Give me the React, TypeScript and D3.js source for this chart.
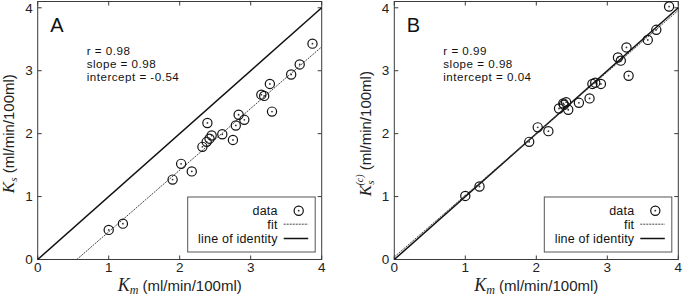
import React from 'react';
import * as d3 from 'd3';

const km = [1.0, 1.2, 1.9, 2.02, 2.17, 2.32, 2.38, 2.42, 2.45, 2.39, 2.6, 2.75, 2.79, 2.83, 2.91, 3.15, 3.19, 3.27, 3.3, 3.57, 3.69, 3.87];
const ksA = [0.47, 0.57, 1.27, 1.52, 1.4, 1.79, 1.87, 1.92, 1.97, 2.17, 1.99, 1.9, 2.13, 2.3, 2.22, 2.62, 2.6, 2.79, 2.35, 2.94, 3.1, 3.43];
const ksB = [1.01, 1.16, 1.87, 2.1, 2.04, 2.4, 2.48, 2.5, 2.38, 2.46, 2.49, 2.56, 2.79, 2.81, 2.79, 3.21, 3.16, 3.37, 2.92, 3.49, 3.65, 4.02];
const tickValues = [0, 1, 2, 3, 4];
const statsA = ['r = 0.98', 'slope = 0.98', 'intercept = -0.54'];
const statsB = ['r = 0.99', 'slope = 0.98', 'intercept = 0.04'];
const fitSlopes = [0.98, 0.98];
const fitIntercepts = [-0.54, 0.04];
const legendLabels = ['data', 'fit', 'line of identity'];
const panelLetters = ['A', 'B'];

const SANS = '"Liberation Sans", Arial, Helvetica, sans-serif';
const SERIF = '"Liberation Serif", "Times New Roman", serif';

type PanelProps = {
  left: number;
  right: number;
  ys: number[];
  stats: string[];
  letter: string;
  slope: number;
  intercept: number;
  corrected: boolean;
};

function Panel({ left, right, ys, stats, letter, slope, intercept, corrected }: PanelProps) {
  const top = 1.5;
  const bottom = 259.5;
  const x = d3.scaleLinear().domain([0, 4]).range([left, right]);
  const y = d3.scaleLinear().domain([0, 4.1]).range([bottom, top]);
  const tickLen = 4;

  const fx0 = Math.max(0, -intercept / slope);
  const fitLine = d3.line<number>().x((d) => x(d)).y((d) => y(slope * d + intercept));
  const idLine = d3.line<number>().x((d) => x(d)).y((d) => y(d));

  const cx = (left + right) / 2;
  const cy = (y(0) + y(4)) / 2;

  const lgRight = right - 6.5;
  const lgLeft = right - 134;
  const lgTop = 197;
  const lgBottom = 252;
  const rows = [210.7, 224.2, 238.5];

  return (
    <g>
      <rect x={left} y={top} width={right - left} height={bottom - top} fill="none" stroke="#3a3a3a" strokeWidth={1} />
      {tickValues.map((t) => (
        <g key={'t' + t}>
          <line x1={left} x2={left + tickLen} y1={y(t)} y2={y(t)} stroke="#3a3a3a" />
          <line x1={right} x2={right - tickLen} y1={y(t)} y2={y(t)} stroke="#3a3a3a" />
          <line x1={x(t)} x2={x(t)} y1={bottom} y2={bottom - tickLen} stroke="#3a3a3a" />
          <line x1={x(t)} x2={x(t)} y1={top} y2={top + tickLen} stroke="#3a3a3a" />
          <text x={left - 5} y={y(t)} dy="0.35em" textAnchor="end" fontFamily={SANS} fontSize={13.5} fill="#222">{t}</text>
          <text x={x(t)} y={271.5} textAnchor="middle" fontFamily={SANS} fontSize={13.5} fill="#222">{t}</text>
        </g>
      ))}
      <path d={idLine([0, 4]) || ''} fill="none" stroke="#111" strokeWidth={1.5} />
      <path d={fitLine([fx0, 4]) || ''} fill="none" stroke="#444" strokeWidth={1} strokeDasharray="2,1" />
      {km.map((k, i) => (
        <g key={'p' + i}>
          <circle cx={x(k)} cy={y(ys[i])} r={4.6} fill="none" stroke="#111" strokeWidth={1.2} />
          <circle cx={x(k)} cy={y(ys[i])} r={0.9} fill="#333" />
        </g>
      ))}
      <text x={left + 12.5} y={31.7} fontFamily={SANS} fontSize={20} fill="#111">{letter}</text>
      {stats.map((s, i) => (
        <text key={'s' + i} x={left + 49} y={54.5 + i * 13} fontFamily={SANS} fontSize={11.6} letterSpacing={0.5} fill="#111">{s}</text>
      ))}
      <rect x={lgLeft} y={lgTop} width={lgRight - lgLeft} height={lgBottom - lgTop} fill="#fff" stroke="#555" strokeWidth={1} />
      {legendLabels.map((l, i) => (
        <text key={'l' + i} x={right - 44} y={rows[i]} dy="0.35em" textAnchor="end" fontFamily={SANS} fontSize={12.5} letterSpacing={0.2} fill="#111">{l}</text>
      ))}
      <circle cx={right - 23} cy={rows[0]} r={4.6} fill="none" stroke="#111" strokeWidth={1.2} />
      <circle cx={right - 23} cy={rows[0]} r={0.9} fill="#333" />
      <line x1={right - 38} x2={right - 13.5} y1={rows[1]} y2={rows[1]} stroke="#444" strokeWidth={1} strokeDasharray="2,1" />
      <line x1={right - 38} x2={right - 13.5} y1={rows[2]} y2={rows[2]} stroke="#111" strokeWidth={1.5} />
      <text x={cx} y={291} textAnchor="middle" fill="#222">
        <tspan fontFamily={SERIF} fontStyle="italic" fontSize={18}>K</tspan>
        <tspan fontFamily={SERIF} fontStyle="italic" fontSize={12} dy={3}>m</tspan>
        <tspan fontFamily={SANS} fontSize={15} dy={-3}> (ml/min/100ml)</tspan>
      </text>
      <g transform={`translate(${left - 23.5},${cy}) rotate(-90)`}>
        {corrected ? (
          <text x={0} y={0} textAnchor="middle" fill="#222">
            <tspan fontFamily={SERIF} fontStyle="italic" fontSize={17}>K</tspan>
            <tspan fontFamily={SERIF} fontStyle="italic" fontSize={11} dy={3}>s</tspan>
            <tspan fontFamily={SERIF} fontStyle="italic" fontSize={10} dx={-5} dy={-11}>(c)</tspan>
            <tspan fontFamily={SANS} fontSize={15} dy={8}> (ml/min/100ml)</tspan>
          </text>
        ) : (
          <text x={0} y={0} textAnchor="middle" fill="#222">
            <tspan fontFamily={SERIF} fontStyle="italic" fontSize={17}>K</tspan>
            <tspan fontFamily={SERIF} fontStyle="italic" fontSize={11} dy={3}>s</tspan>
            <tspan fontFamily={SANS} fontSize={15} dy={-3}> (ml/min/100ml)</tspan>
          </text>
        )}
      </g>
    </g>
  );
}

export default function App() {
  return (
    <svg
      width={685}
      height={296}
      viewBox="0 0 685 296"
      style={{ position: 'absolute', left: 0, top: 0, background: '#fff' }}
    >
      <rect x={0} y={0} width={685} height={296} fill="#fff" />
      <Panel left={37.7} right={321.7} ys={ksA} stats={statsA} letter={panelLetters[0]} slope={fitSlopes[0]} intercept={fitIntercepts[0]} corrected={false} />
      <Panel left={394.3} right={678.3} ys={ksB} stats={statsB} letter={panelLetters[1]} slope={fitSlopes[1]} intercept={fitIntercepts[1]} corrected={true} />
    </svg>
  );
}
